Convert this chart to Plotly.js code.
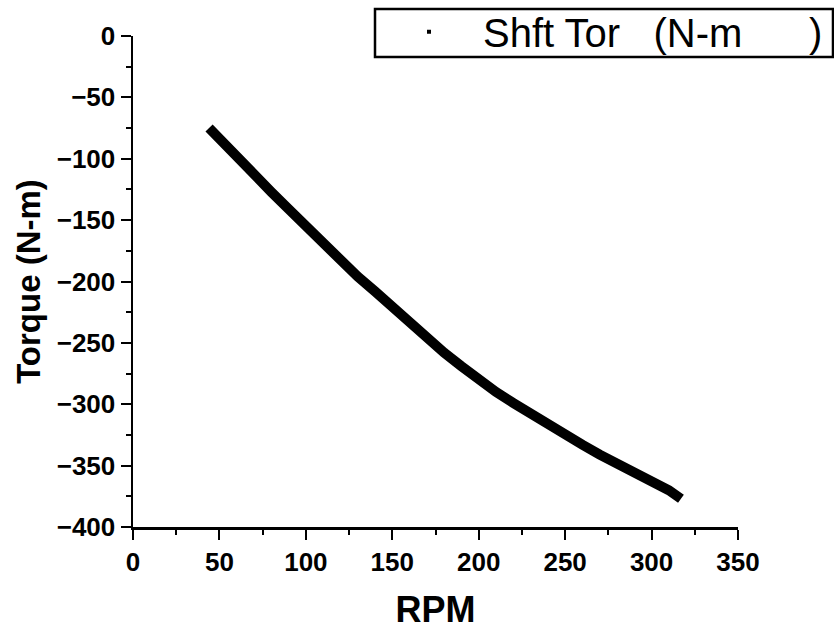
<!DOCTYPE html>
<html>
<head>
<meta charset="utf-8">
<script src="https://cdn.plot.ly/plotly-3.0.1.min.js"></script>
<style>html,body{margin:0;padding:0;background:#fff;}#chart{width:834px;height:630px;}</style>
</head>
<body>
<div id="chart"></div>
<script>
// RPM values along the measured band
const rpm = [44, 50, 60, 70, 80, 90, 100, 110, 120, 130, 140, 150, 160, 170, 180, 190, 200, 210, 220, 230, 240, 250, 260, 270, 280, 290, 300, 310, 317];
// Shaft torque (N-m)
const torque = [-75, -84, -98, -113, -127, -141, -155, -169, -183, -196, -208, -221, -234, -246, -258, -269, -280, -290, -299, -308, -317, -325, -333, -341, -348, -355, -362, -370, -377];
const seriesName = "Shft Tor\u00a0\u00a0\u00a0(N-m\u00a0\u00a0\u00a0\u00a0\u00a0\u00a0)";
const xTitle = "RPM";
const yTitle = "Torque (N-m)\u00a0\u00a0";

const fontFam = "Liberation Sans, Arial, sans-serif";

const traces = [
  {
    x: rpm, y: torque, type: "scatter", mode: "lines",
    line: {color: "#000", width: 10},
    showlegend: false, hoverinfo: "skip"
  },
  {
    x: [null], y: [null], type: "scatter", mode: "markers",
    name: seriesName,
    marker: {symbol: "square", size: 4, color: "#000"},
    showlegend: true
  }
];

const axisCommon = {
  showgrid: false, zeroline: false,
  showline: true, linecolor: "#000", linewidth: 2.5,
  ticks: "outside", ticklen: 10, tickwidth: 2, tickcolor: "#000",
  tickfont: {family: fontFam, size: 26, color: "#000", weight: "bold"},
  mirror: false, automargin: false
};

const layout = {
  width: 834, height: 630,
  margin: {l: 133, r: 96, t: 36, b: 103, autoexpand: false},
  paper_bgcolor: "#fff", plot_bgcolor: "#fff",
  xaxis: Object.assign({}, axisCommon, {
    range: [0, 350], dtick: 50, tick0: 0,
    minor: {ticks: "outside", ticklen: 5, tickwidth: 2, dtick: 25, tickcolor: "#000", showgrid: false},
    title: {text: xTitle, font: {family: fontFam, size: 36, color: "#000", weight: "bold"}, standoff: 28}
  }),
  yaxis: Object.assign({}, axisCommon, {
    range: [-400, 0], dtick: 50, tick0: 0,
    minor: {ticks: "outside", ticklen: 5, tickwidth: 2, dtick: 25, tickcolor: "#000", showgrid: false},
    title: {text: yTitle, font: {family: fontFam, size: 33, color: "#000", weight: "bold"}, standoff: 6}
  }),
  legend: {
    x: 0.4, xanchor: "left", y: 1.075, yanchor: "top",
    borderwidth: 0, bgcolor: "rgba(0,0,0,0)",
    font: {family: fontFam, size: 40, color: "#000"},
    itemwidth: 98
  },
  shapes: [
    {type: "rect", xref: "paper", yref: "paper", x0: 0.4, x1: 1.157, y0: 0.9572, y1: 1.055,
     line: {color: "#000", width: 2.5}, fillcolor: "rgba(0,0,0,0)", layer: "below"}
  ],
  showlegend: true
};

Plotly.newPlot("chart", traces, layout, {displayModeBar: false, staticPlot: true});
</script>
</body>
</html>
